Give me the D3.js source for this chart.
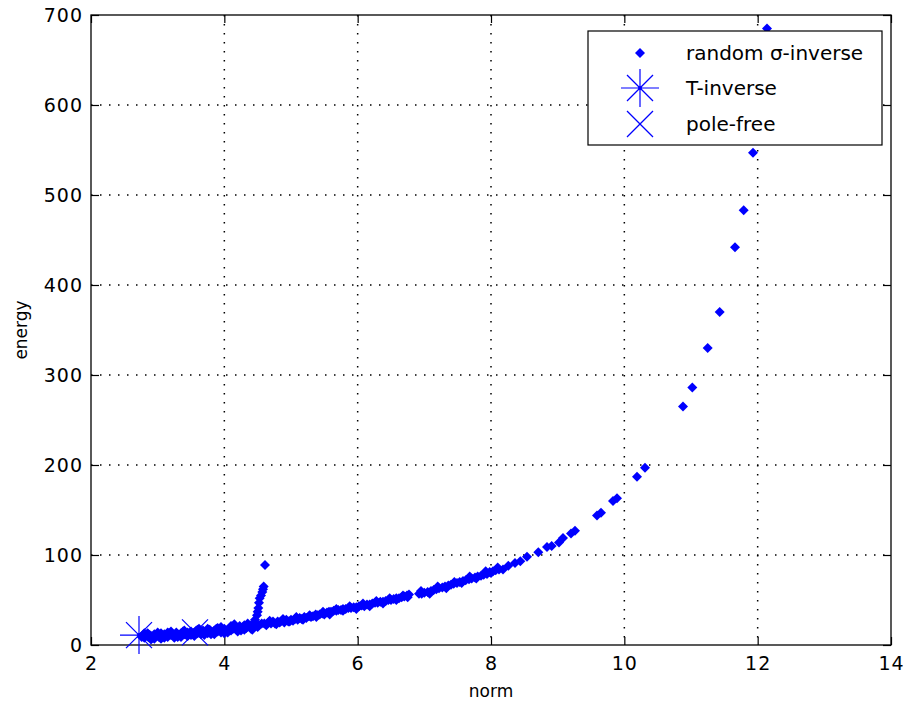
<!DOCTYPE html>
<html><head><meta charset="utf-8">
<script src="https://cdn.jsdelivr.net/npm/d3@7"></script>
<style>
html,body{margin:0;padding:0;background:#fff;}
text{font-family:"DejaVu Sans",sans-serif;}
</style></head>
<body>
<svg id="chart" width="905" height="711"></svg>
<script>
// ---- data ----
const xTicks = [2,4,6,8,10,12,14];
const yTicks = [0,100,200,300,400,500,600,700];
const legendLabels = ["random \u03C3-inverse","T-inverse","pole-free"];

// random sigma-inverse: norm values
const randNorm = [
 2.76,2.78,2.80,2.82,2.84,2.86,2.88,2.90,2.92,2.95,2.97,3.00,3.02,3.05,3.07,3.10,3.12,3.15,3.17,3.20,
 3.22,3.25,3.28,3.30,3.33,3.35,3.38,3.40,3.43,3.45,3.48,3.50,3.53,3.55,3.58,3.60,3.63,3.65,3.68,3.70,
 3.73,3.75,3.78,3.80,3.83,3.85,3.88,3.90,3.93,3.95,3.98,4.00,4.03,4.05,4.08,4.10,4.13,4.15,4.18,4.20,
 4.23,4.25,4.28,4.30,4.33,4.35,4.38,4.40,4.43,4.45,
 2.85,2.95,3.05,3.15,3.25,3.35,3.45,3.55,3.62,3.70,3.80,3.90,4.00,4.10,4.20,4.30,4.40,4.48,4.50,
 2.80,2.90,3.00,3.10,3.20,3.30,3.40,3.50,3.60,3.75,3.85,3.95,4.05,4.15,4.25,4.35,4.42,
 4.46,4.49,4.50,4.51,4.52,4.53,4.55,4.57,4.58,4.59,4.61,
 4.52,4.56,4.60,4.63,4.66,4.70,4.73,4.76,4.80,4.83,4.86,4.90,4.93,4.96,5.00,5.03,5.06,5.10,5.13,5.16,
 5.20,5.23,5.27,5.30,5.33,5.37,5.40,5.43,5.47,5.50,5.54,5.57,5.60,5.64,5.68,5.71,5.75,5.78,5.82,5.86,
 5.90,5.94,5.98,6.02,6.06,6.10,6.14,6.18,6.22,6.26,6.30,6.34,6.38,6.42,6.46,6.50,6.54,6.58,6.62,6.66,
 6.70,6.74,6.77,6.92,6.96,7.00,7.05,7.10,7.14,7.18,7.22,7.27,7.31,7.36,7.40,7.44,7.49,7.53,7.58,7.62,
 7.67,7.71,7.76,7.80,7.85,7.89,7.94,7.98,8.03,8.07,8.12,
 4.68,4.78,4.88,4.98,5.08,5.18,5.28,5.38,5.48,5.58,5.68,5.78,5.88,5.98,6.08,6.18,6.28,6.38,6.48,6.58,
 6.68,6.75,6.95,7.08,7.20,7.33,7.45,7.56,7.68,7.78,7.92,8.00,8.10,
 8.18,8.26,8.36,8.44,8.54,8.71,8.84,8.91,9.02,9.08,9.20,9.26,9.59,9.65,9.83,9.89,10.19,10.31,
 10.88,11.02,11.25,11.43,11.66,11.79,11.93,12.14
];
// random sigma-inverse: energy values
const randEnergy = [
 9,11,8,10,12,9,11,10,8,12,10,11,9,13,10,12,11,9,13,11,
 12,10,14,12,11,13,15,12,11,14,13,15,12,14,16,13,15,12,16,14,
 15,13,17,15,14,16,18,15,17,14,16,18,15,17,19,16,18,20,17,19,
 21,18,20,22,19,21,20,22,21,23,
 13,7,7,14,8,9,10,10,18,11,12,19,13,21,15,17,18,22,20,
 13,6,14,8,15,9,16,11,17,18,12,20,14,23,16,24,17,
 28,33,37,41,47,52,55,59,62,65,89,
 22,24,24,22,25,24,26,24,26,25,27,25,28,26,28,27,29,28,30,29,
 31,30,32,31,32,34,33,34,35,34,36,37,37,38,38,39,39,40,40,41,
 41,42,42,43,44,43,45,45,46,47,47,48,48,49,50,50,51,52,52,53,
 54,55,56,57,57,58,59,60,61,62,63,64,65,66,67,68,69,70,71,72,
 73,74,75,76,77,78,79,81,82,83,84,
 27,23,29,26,31,28,33,31,37,34,40,38,43,40,46,43,49,46,52,50,
 55,53,60,57,65,63,70,69,76,74,82,80,86,
 84,88,91,93,98,103,109,110,114,119,124,127,144,147,160,163,187,197,
 265,286,330,370,442,483,547,685
];
const tInvNorm = [2.72];
const tInvEnergy = [11];
const poleNorm = [3.56];
const poleEnergy = [14];

// ---- layout ----
const svg = d3.select("#chart");
const L = 91, R = 891, T = 15, B = 645;
const x = d3.scaleLinear().domain([2,14]).range([L,R]);
const y = d3.scaleLinear().domain([0,700]).range([B,T]);
const blue = "#0000ff";

// grid
const grid = svg.append("g");
grid.selectAll("line.gx").data(xTicks.slice(1,-1)).join("line")
  .attr("x1",d=>x(d)).attr("x2",d=>x(d)).attr("y1",T).attr("y2",B)
  .attr("stroke","#000").attr("stroke-width",1.5).attr("stroke-dasharray","1.5,7.5");
grid.selectAll("line.gy").data(yTicks.slice(1,-1)).join("line")
  .attr("y1",d=>y(d)).attr("y2",d=>y(d)).attr("x1",L).attr("x2",R)
  .attr("stroke","#000").attr("stroke-width",1.5).attr("stroke-dasharray","1.5,7.5");

// axes with inward ticks on all sides
const fmt = d3.format("d");
const axB = svg.append("g").attr("transform",`translate(0,${B})`)
  .call(d3.axisBottom(x).tickValues(xTicks).tickSize(-8).tickPadding(12).tickFormat(fmt));
const axT = svg.append("g").attr("transform",`translate(0,${T})`)
  .call(d3.axisTop(x).tickValues(xTicks).tickSize(-8).tickFormat(""));
const axL = svg.append("g").attr("transform",`translate(${L},0)`)
  .call(d3.axisLeft(y).tickValues(yTicks).tickSize(-8).tickPadding(8).tickFormat(fmt));
const axR = svg.append("g").attr("transform",`translate(${R},0)`)
  .call(d3.axisRight(y).tickValues(yTicks).tickSize(-8).tickFormat(""));
[axB,axT,axL,axR].forEach(a=>{
  a.select(".domain").remove();
  a.selectAll("line").attr("stroke","#000").attr("stroke-width",1.2);
  a.selectAll("text").attr("font-family","DejaVu Sans, sans-serif").attr("font-size",19)
    .attr("fill","#000").attr("letter-spacing","1px");
});
axB.selectAll("text").attr("dy","0.71em");
svg.append("rect").attr("x",L).attr("y",T).attr("width",R-L).attr("height",B-T)
  .attr("fill","none").attr("stroke","#000").attr("stroke-width",1.3);

// axis labels
svg.append("text").attr("x",(L+R)/2).attr("y",697).attr("text-anchor","middle")
  .attr("font-size",17).text("norm");
svg.append("text").attr("transform",`translate(27,${(T+B)/2}) rotate(-90)`)
  .attr("text-anchor","middle").attr("font-size",17).text("energy");

// marker helpers
const diamond = "M0,-5L5,0L0,5L-5,0Z";
function asterisk(g){
  const r=19, d=13;
  g.append("line").attr("x1",-r).attr("x2",r).attr("y1",0).attr("y2",0);
  g.append("line").attr("x1",0).attr("x2",0).attr("y1",-r).attr("y2",r);
  g.append("line").attr("x1",-d).attr("x2",d).attr("y1",-d).attr("y2",d);
  g.append("line").attr("x1",-d).attr("x2",d).attr("y1",d).attr("y2",-d);
  g.selectAll("line").attr("stroke",blue).attr("stroke-width",1.2);
  g.append("circle").attr("r",2).attr("fill",blue);
}
function cross(g){
  const d=13;
  g.append("line").attr("x1",-d).attr("x2",d).attr("y1",-d).attr("y2",d);
  g.append("line").attr("x1",-d).attr("x2",d).attr("y1",d).attr("y2",-d);
  g.selectAll("line").attr("stroke",blue).attr("stroke-width",1.2);
}

// clip
svg.append("clipPath").attr("id","clip").append("rect")
  .attr("x",L).attr("y",T).attr("width",R-L).attr("height",B-T);
const plot = svg.append("g").attr("clip-path","url(#clip)");

const pts = randNorm.map((n,i)=>({n, e: randEnergy[i]}));
plot.selectAll("path.pt").data(pts).join("path")
  .attr("d",diamond).attr("fill",blue)
  .attr("transform",d=>`translate(${x(d.n)},${y(d.e)})`);

tInvNorm.forEach((n,i)=>{ asterisk(svg.append("g").attr("transform",`translate(${x(n)},${y(tInvEnergy[i])})`)); });
poleNorm.forEach((n,i)=>{ cross(svg.append("g").attr("transform",`translate(${x(n)},${y(poleEnergy[i])})`)); });

// legend
const lg = svg.append("g");
lg.append("rect").attr("x",588).attr("y",31).attr("width",294).attr("height",114)
  .attr("fill","#fff").attr("stroke","#000").attr("stroke-width",1.2);
const rowsY = [53,88,124];
lg.append("path").attr("d",diamond).attr("fill",blue).attr("transform",`translate(640,${rowsY[0]})`);
asterisk(lg.append("g").attr("transform",`translate(640,${rowsY[1]})`));
cross(lg.append("g").attr("transform",`translate(640,${rowsY[2]})`));
lg.selectAll("text.lt").data(legendLabels).join("text")
  .attr("x",686).attr("y",(d,i)=>rowsY[i]).attr("dy","0.35em")
  .attr("font-size",20).attr("fill","#000").text(d=>d);
</script>
</body></html>
